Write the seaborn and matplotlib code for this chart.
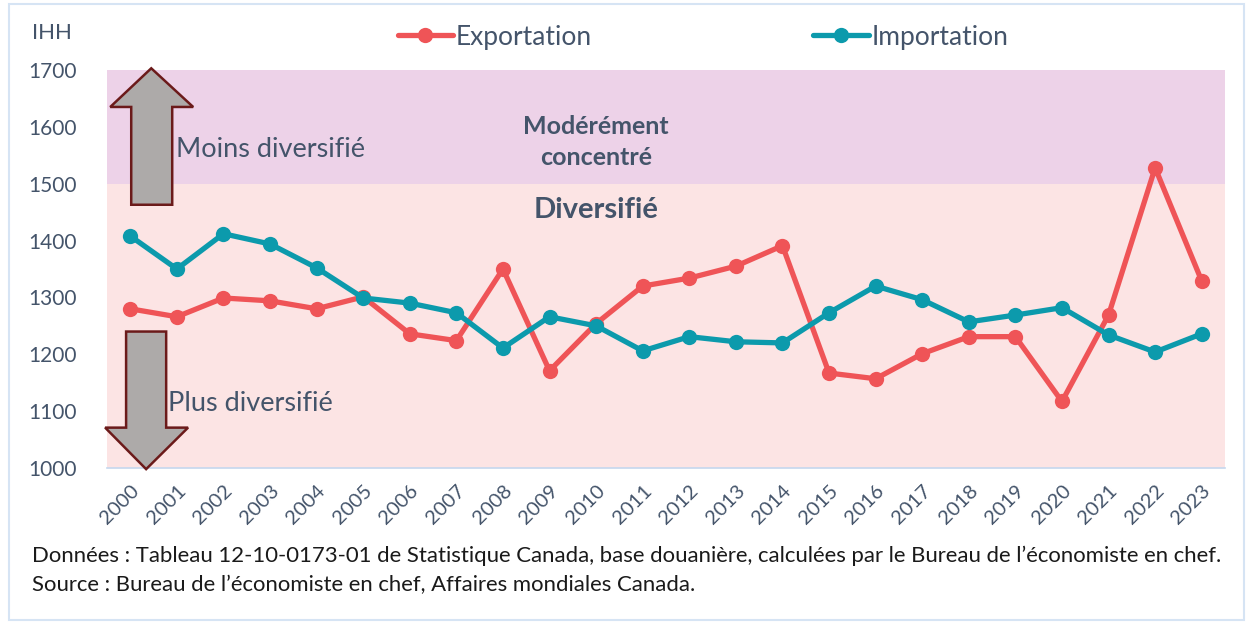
import matplotlib
matplotlib.use("Agg")
import matplotlib.pyplot as plt
import seaborn as sns
import pandas as pd
import numpy as np
from matplotlib.patches import Polygon, Rectangle
from matplotlib.lines import Line2D

years = [str(y) for y in range(2000, 2024)]
exportation = [1280, 1266, 1299, 1294, 1280, 1301, 1236, 1224, 1350, 1171, 1254, 1320,
               1334, 1355, 1391, 1167, 1157, 1201, 1231, 1231, 1117, 1269, 1528, 1329]
importation = [1408, 1350, 1412, 1394, 1352, 1299, 1290, 1273, 1211, 1266, 1250, 1206,
               1231, 1222, 1220, 1273, 1320, 1296, 1257, 1269, 1282, 1234, 1204, 1236]
series_names = ["Exportation", "Importation"]
yticks = [1000, 1100, 1200, 1300, 1400, 1500, 1600, 1700]

sns.set_theme(style="white")
FONT = "Lato"
plt.rcParams["font.family"] = [FONT, "DejaVu Sans"]
TXT = "#44546A"
RED = "#EF5457"
TEAL = "#0C9AAC"

df = pd.DataFrame({
    "idx": list(range(len(years))) * 2,
    "val": exportation + importation,
    "serie": [series_names[0]] * len(years) + [series_names[1]] * len(years),
})

W, H = 1252, 624
fig = plt.figure(figsize=(W / 100, H / 100), dpi=100)
ax = fig.add_axes([107 / W, 1 - 468 / H, (1225 - 107) / W, (468 - 70) / H])

# bands
ax.axhspan(1000, 1500, color="#FCE4E4", zorder=0, lw=0)
ax.axhspan(1500, 1700, color="#EDD2E8", zorder=0, lw=0)

sns.lineplot(data=df, x="idx", y="val", hue="serie", palette=[RED, TEAL],
             marker="o", markersize=11, markeredgewidth=0, linewidth=3.8,
             ax=ax, legend=False, zorder=3)

ax.set_xlim(-0.5, len(years) - 0.5)
ax.set_ylim(1000, 1700)
ax.set_yticks(yticks)
ax.set_yticklabels([str(v) for v in yticks], fontsize=15, color=TXT)
ax.set_xticks(range(len(years)))
ax.set_xticklabels(years, rotation=45, ha="right", rotation_mode="anchor",
                   fontsize=14.5, color=TXT)
ax.tick_params(axis="x", length=0, pad=10)
ax.tick_params(axis="y", length=0, pad=22)
ax.set_xlabel("")
ax.set_ylabel("")
for s in ["top", "right", "left"]:
    ax.spines[s].set_visible(False)
ax.spines["bottom"].set_color("#C5D7EE")
ax.spines["bottom"].set_linewidth(1.2)

# arrows (data coords)
up = np.array([[0.45, 1703], [1.35, 1635], [0.90, 1635], [0.90, 1463],
               [0.02, 1463], [0.02, 1635], [-0.43, 1635]])
down = np.array([[-0.09, 1240], [0.77, 1240], [0.77, 1071], [1.24, 1071],
                 [0.34, 998], [-0.54, 1071], [-0.09, 1071]])
for pts in (up, down):
    ax.add_patch(Polygon(pts, closed=True, facecolor="#ADAAA9", edgecolor="#6B1A1A",
                         lw=1.8, zorder=4, clip_on=False))

ax.text(0.98, 1560, "Moins diversifié", fontsize=19.5, color=TXT, va="center", ha="left", zorder=5)
ax.text(0.8, 1113, "Plus diversifié", fontsize=19.5, color=TXT, va="center", ha="left", zorder=5)
ax.text(10, 1573, "Modérément\nconcentré", fontsize=18, fontweight="bold", color=TXT,
        ha="center", va="center", linespacing=1.4, zorder=5)
ax.text(10, 1454, "Diversifié", fontsize=21, fontweight="bold", color=TXT,
        ha="center", va="center", zorder=5)

# legend
handles = [Line2D([0], [0], color=c, lw=3.8, marker="o", markersize=11, markeredgewidth=0)
           for c in (RED, TEAL)]
fig.legend(handles, series_names, loc="center", bbox_to_anchor=(703 / W, 1 - 37 / H),
           ncol=2, frameon=False, fontsize=19, labelcolor=TXT, handlelength=2.1,
           handletextpad=0.1, columnspacing=8.4)

fig.text(32 / W, 1 - 33 / H, "IHH", fontsize=16, color=TXT, va="center", ha="left")
fig.text(32 / W, 1 - 556 / H,
         "Données : Tableau 12-10-0173-01 de Statistique Canada, base douanière, calculées par le Bureau de l’économiste en chef.",
         fontsize=15.9, color="#1a1a1a", va="center", ha="left")
fig.text(32 / W, 1 - 585 / H, "Source : Bureau de l’économiste en chef, Affaires mondiales Canada.",
         fontsize=15.9, color="#1a1a1a", va="center", ha="left")

# outer frame
fig.patches.append(Rectangle((9 / W, 4 / H), (1244 - 9) / W, (620 - 4) / H,
                             transform=fig.transFigure, fill=False, edgecolor="#D6E4F4", lw=1.5))

fig.savefig("out.png", dpi=100, facecolor="white")
